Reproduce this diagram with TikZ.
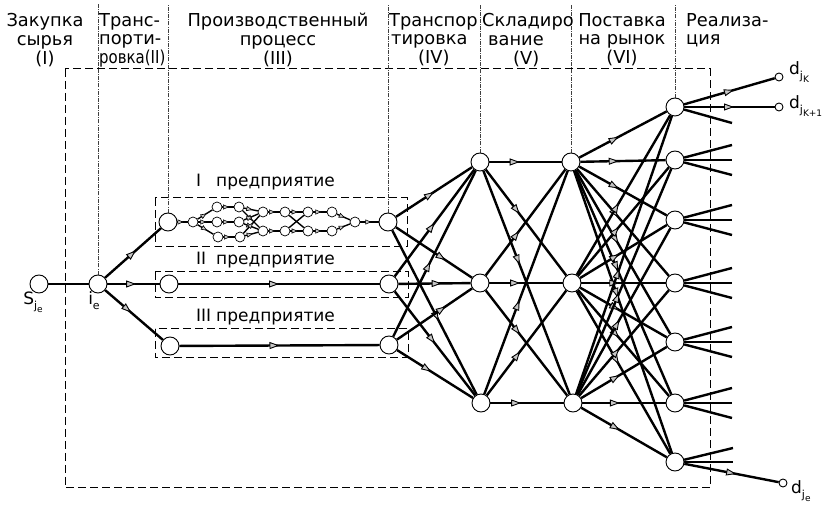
\documentclass[tikz,border=0pt]{standalone}
\usepackage{graphicx}
\usepackage{fontspec}
\setmainfont{DejaVu Sans}
\usetikzlibrary{arrows.meta,decorations.markings}
\pgfdeclarelayer{bg}
\pgfdeclarelayer{edges}
\pgfsetlayers{bg,edges,main}

% nested subscripts for the flow labels
\newcommand{\subtwo}[3]{#1\raisebox{-0.3em}{\fontsize{11}{11}\selectfont #2\raisebox{-0.22em}{\fontsize{9}{9}\selectfont #3}}}

\tikzset{
  gtip/.tip={Triangle[length=10pt,width=7pt,fill=gray!45,line width=0.9pt]},
  stip/.tip={Triangle[length=6pt,width=5pt,fill=gray!45,line width=0.6pt]},
  arr/.style={postaction={decorate,decoration={markings,
      mark=at position #1 with {\arrow{gtip}}}}},
  arr/.default=0.5,
  sarr/.style={postaction={decorate,decoration={markings,
      mark=at position #1 with {\arrow{stip}}}}},
  sarr/.default=0.5,
  hd/.style={font=\fontsize{17.8}{18.8}\selectfont, inner sep=0pt, anchor=north},
  ent/.style={font=\fontsize{17}{19}\selectfont, inner sep=0pt, anchor=west},
  lbl/.style={font=\fontsize{17}{19}\selectfont, inner sep=0pt},
  bignode/.style={circle, draw, fill=white, minimum size=18pt, inner sep=0pt, line width=0.9pt},
  smallnode/.style={circle, draw, fill=white, minimum size=10pt, inner sep=0pt, line width=0.7pt},
  endnode/.style={circle, draw, fill=white, minimum size=8pt, inner sep=0pt, line width=0.9pt},
  link/.style={line width=2.4pt},
  fine/.style={line width=1.4pt},
  frame/.style={dash pattern=on 8pt off 4pt, line width=1pt},
  sep/.style={line width=0.6pt, black!75, dash pattern=on 4pt off 1.2pt on 0.8pt off 1.2pt}
}

\begin{document}
\begin{tikzpicture}[x=1pt,y=-1pt]
\useasboundingbox (0,0) rectangle (828,510);

% ---- column headings
\node[hd, align=center] (h1) at (45,13) {Закупка\\сырья\\(I)};
\node[hd, align=left, anchor=north west] (h2) at (99,13) {Транс-\\порти-\\\scalebox{0.84}[1]{ровка(II)}};
\node[hd, align=center] (h3) at (278,13) {Производственный\\процесс\\(III)};
\node[hd, align=left, anchor=north west] (h4) at (389,13) {Транспор\\\hspace{2pt}тировка\\\hspace{29pt}(IV)};
\node[hd, align=left, anchor=north west] (h5) at (482,13) {Складиро\\\hspace{6pt}вание\\\hspace{31pt}(V)};
\node[hd, align=center] (h6) at (622,13) {Поставка\\на рынок\\(VI)};
\node[hd, align=left, anchor=north west] (h7) at (686,13) {Реализа-\\ция};

% ---- enterprise captions
\node[ent] (l1) at (196,182) {\makebox[20pt][l]{I}предприятие};
\node[ent] (l2) at (196,260) {\makebox[20pt][l]{II}предприятие};
\node[ent] (l3) at (196,317) {\makebox[20pt][l]{III}предприятие};

% ---- main nodes
\node[bignode] (s)  at (39,284) {};
\node[bignode] (ie) at (98,284) {};
\node[bignode] (e1l) at (168,222) {};
\node[bignode] (e1r) at (388,222) {};
\node[bignode] (e2l) at (169,284) {};
\node[bignode] (e2r) at (389,284) {};
\node[bignode] (e3l) at (170,346) {};
\node[bignode] (e3r) at (389,345) {};
\node[bignode] (iv1) at (480,162) {};
\node[bignode] (iv2) at (480,283) {};
\node[bignode] (iv3) at (481,403) {};
\node[bignode] (v1) at (571,162) {};
\node[bignode] (v2) at (572,283) {};
\node[bignode] (v3) at (573,403) {};
\foreach \k/\y in {1/107,2/160,3/220,4/283,5/342,6/403,7/462}
  \node[bignode] (r\k) at (675,\y) {};
\node[endnode] (dK)  at (779,77) {};
\node[endnode] (dK1) at (779,107) {};
\node[endnode] (de)  at (783,483) {};

% ---- inner network of enterprise I
\node[smallnode] (b)  at (193,222) {};
\node[smallnode] (c1) at (217,207) {};
\node[smallnode] (c2) at (217,222) {};
\node[smallnode] (c3) at (218,237) {};
\node[smallnode] (d1) at (239,207) {};
\node[smallnode] (d2) at (239,222) {};
\node[smallnode] (d3) at (240,237) {};
\node[smallnode] (f1) at (263,212) {};
\node[smallnode] (f2) at (263,231) {};
\node[smallnode] (g1) at (285,212) {};
\node[smallnode] (g2) at (285,231) {};
\node[smallnode] (q1) at (308,212) {};
\node[smallnode] (q2) at (308,231) {};
\node[smallnode] (k1) at (332,212) {};
\node[smallnode] (k2) at (332,231) {};
\node[smallnode] (m)  at (355,222) {};

% ---- labels
\node[lbl] (ls)  at (33,302) {\subtwo{S}{j}{e}};
\node[lbl] (lie) at (94,301) {i\raisebox{-0.3em}{\fontsize{11}{11}\selectfont e}};
\node[lbl, anchor=west] (ldK)  at (789,72) {\subtwo{d}{j}{K}};
\node[lbl, anchor=west] (ldK1) at (789,106) {\subtwo{d}{j}{K+1}};
\node[lbl, anchor=west] (lde)  at (791,491) {\subtwo{d}{j}{e}};

% ---- frames and column separators
\begin{pgfonlayer}{bg}
  \coordinate (fa) at (65,69);
  \coordinate (fb) at (710,488);
  \draw[frame] (fa) rectangle (fb);
  \coordinate (b1a) at (155,198); \coordinate (b1b) at (407,247);
  \coordinate (b2a) at (155,272); \coordinate (b2b) at (408,298);
  \coordinate (b3a) at (155,329); \coordinate (b3b) at (408,358);
  \draw[frame] (b1a) rectangle (b1b);
  \draw[frame] (b2a) rectangle (b2b);
  \draw[frame] (b3a) rectangle (b3b);
  \coordinate (top) at (0,4);
  \foreach \n in {ie,e1l,e1r,iv1,v1,r1}
    \draw[sep] (\n.north) -- (\n.north |- top);
\end{pgfonlayer}

% ---- connectors
\begin{pgfonlayer}{edges}
  \draw[link] (s) -- (ie);
  \draw[link, arr=0.55] (ie) -- (e1l);
  \draw[link, arr=0.55] (ie) -- (e2l);
  \draw[link, arr=0.45] (ie) -- (e3l);
  \draw[link, arr=0.5] (e2l) -- (e2r);
  \draw[link, arr=0.5] (e3l) -- (e3r);

  % enterprise I internals
  \draw[fine, sarr=0.6] (e1l) -- (b);
  \foreach \c in {c1,c2,c3} \draw[fine, sarr=0.6] (b) -- (\c);
  \draw[fine, sarr=0.6] (c1) -- (d1);
  \draw[fine, sarr=0.6] (c2) -- (d2);
  \draw[fine, sarr=0.6] (c3) -- (d3);
  \foreach \d in {d1,d2,d3} {
    \draw[fine, sarr=0.6] (\d) -- (f1);
    \draw[fine, sarr=0.6] (\d) -- (f2);
  }
  \draw[fine, sarr=0.6] (f1) -- (g1);
  \draw[fine, sarr=0.6] (f2) -- (g2);
  \draw[fine, sarr=0.6] (g1) -- (q1);
  \draw[fine, sarr=0.6] (g2) -- (q2);
  \draw[fine] (g1) -- (q2);
  \draw[fine] (g2) -- (q1);
  \draw[fine, sarr=0.6] (q1) -- (k1);
  \draw[fine, sarr=0.6] (q2) -- (k2);
  \draw[fine, sarr=0.6] (k1) -- (m);
  \draw[fine, sarr=0.6] (k2) -- (m);
  \draw[link, sarr=0.6] (m) -- (e1r);

  % enterprises to transport
  \draw[link, arr=0.5]  (e1r) -- (iv1);
  \draw[link, arr=0.65] (e1r) -- (iv2);
  \draw[link, arr=0.55] (e1r) -- (iv3);
  \draw[link, arr=0.5]  (e2r) -- (iv1);
  \draw[link, arr=0.6]  (e2r) -- (iv2);
  \draw[link, arr=0.5]  (e2r) -- (iv3);
  \draw[link, arr=0.45] (e3r) -- (iv1);
  \draw[link, arr=0.65] (e3r) -- (iv2);
  \draw[link, arr=0.45] (e3r) -- (iv3);

  % transport to storage
  \foreach \i in {iv1,iv2,iv3}
    \foreach \j in {v1,v2,v3}
      \draw[link, arr=0.42] (\i) -- (\j);

  % storage to sale points
  \foreach \j in {v1,v2,v3}
    \foreach \k in {1,...,7}
      \draw[link, arr=0.45] (\j) -- (r\k);

  % outlets of the sale points
  \foreach \k/\y in {2/160,3/220,4/283,5/342,6/403} {
    \coordinate (u\k) at (732,\y-15);
    \coordinate (w\k) at (732,\y);
    \coordinate (z\k) at (732,\y+15);
    \draw[link] (r\k) -- (u\k);
    \draw[link] (r\k) -- (w\k);
    \draw[link] (r\k) -- (z\k);
  }
  \coordinate (z1) at (732,123);
  \draw[link] (r1) -- (z1);
  \draw[link, arr=0.55] (r1) -- (dK);
  \draw[link, arr=0.55] (r1) -- (dK1);
  \coordinate (u7) at (733,448);
  \coordinate (w7) at (733,462);
  \draw[link] (r7) -- (u7);
  \draw[link] (r7) -- (w7);
  \draw[link, arr=0.55] (r7) -- (de);
\end{pgfonlayer}
\end{tikzpicture}
\end{document}
